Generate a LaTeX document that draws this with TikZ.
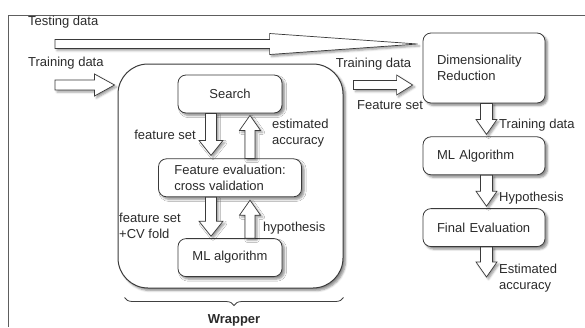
\documentclass[tikz,border=0pt]{standalone}
\usepackage{fontspec}
\setmainfont{Liberation Sans}
\usepackage{xcolor}
\definecolor{boxLine}{HTML}{3A3A3A}
\definecolor{inkText}{HTML}{2B2B2B}
\definecolor{frameGray}{HTML}{5E5E5E}
\usepackage{tikz}
\usetikzlibrary{
    positioning,
    calc,
    shadows.blur,
    decorations.pathreplacing
}
\tikzset{
    % Plain text labels
    label text/.style={
        font=\fontsize{13}{16}\selectfont,
        text=inkText,
        inner sep=0pt,
        align=left,
    },
    % Rounded stage boxes with a soft shadow
    stage/.style={
        font=\fontsize{13}{16}\selectfont,
        text=inkText,
        draw=boxLine,
        line width=0.8pt,
        rounded corners=8pt,
        fill=white,
        minimum width=104pt,
        minimum height=38pt,
        blur shadow={
            shadow xshift=2.5pt,
            shadow yshift=-2.5pt,
            shadow blur steps=5,
            shadow opacity=45
        },
    },
    % Boxes of the right column - text pushed to the left
    stage right/.style={
        stage,
        minimum width=122pt,
        text width=94pt,
        inner xsep=14pt,
        align=left,
    },
    % Big rounded frame around the wrapper loop
    wrapper box/.style={
        draw=boxLine,
        line width=1pt,
        rounded corners=30pt,
        fill=white,
        minimum width=225pt,
        minimum height=224pt,
        blur shadow={
            shadow xshift=2.5pt,
            shadow yshift=-2.5pt,
            shadow blur steps=5,
            shadow opacity=45
        },
    },
    % Hollow block arrow: shaft half width / head half width / head length
    fat arrow/.style args={#1/#2/#3}{
        draw=boxLine,
        line width=0.7pt,
        fill=white,
        blur shadow={
            shadow xshift=2pt,
            shadow yshift=-2pt,
            shadow blur steps=4,
            shadow opacity=40
        },
        to path={
            let \p1=(\tikztostart), \p2=(\tikztotarget),
                \n1={veclen(\x2-\x1,\y2-\y1)},
                \n2={(\x2-\x1)/\n1}, \n3={(\y2-\y1)/\n1} in
            ($(\p1)+({-(\n3)*#1},{(\n2)*#1})$)
            -- ($(\p2)+({-(\n2)*#3-(\n3)*#1},{-(\n3)*#3+(\n2)*#1})$)
            -- ($(\p2)+({-(\n2)*#3-(\n3)*#2},{-(\n3)*#3+(\n2)*#2})$)
            -- (\p2)
            -- ($(\p2)+({-(\n2)*#3+(\n3)*#2},{-(\n3)*#3-(\n2)*#2})$)
            -- ($(\p2)+({-(\n2)*#3+(\n3)*#1},{-(\n3)*#3-(\n2)*#1})$)
            -- ($(\p1)+({(\n3)*#1},{-(\n2)*#1})$) -- cycle
        },
    },
    % Outer frame lines
    frame/.style={draw=frameGray, line width=1pt},
    % Brace under the wrapper
    wrap brace/.style={
        draw=black!75,
        line width=0.8pt,
        decorate,
        decoration={brace, amplitude=8pt},
    },
}

\begin{document}
\begin{tikzpicture}[x=1pt, y=-1pt, node distance=30pt]
    \useasboundingbox (0,0) rectangle (585,327);
    % outer frame, only top and left edges show
    \draw [frame] (8,327) -- (8,15) -- (585,15);

    \node (testlbl) [label text, anchor=west] at (28,22) {Testing data};
    \node (trainlbl) [label text, anchor=west] at (28,63) {Training data};

    % wrapper loop
    \node (wrapper) [wrapper box] at (230.5,176) {};
    \node (search) [stage] at (230,94) {Search};
    \node (feval) [stage, below=45pt of search, minimum width=143pt, align=left] {Feature evaluation:\\cross validation};
    \node (mlalg) [stage, below=41pt of feval] {ML algorithm};

    % right column
    \node (dimred) [stage right, minimum height=70pt] at (484,68) {Dimensionality\\Reduction};
    \node (mlright) [stage right, below=33pt of dimred] {ML Algorithm};
    \node (finaleval) [stage right, below=33pt of mlright] {Final Evaluation};

    \coordinate (teststart) at (55,44);
    \coordinate (trainstart) at (55,85);
    \coordinate (accend) at ([xshift=2.5pt,yshift=-30pt]finaleval.south);

    \draw [fat arrow=4.5pt/10.5pt/148pt] (teststart) to ([xshift=-5pt]dimred.west |- teststart);
    \draw [fat arrow=5pt/11pt/20pt] (trainstart) to ([xshift=-3pt]wrapper.west |- trainstart);
    \draw [fat arrow=4.5pt/10pt/16pt] ([xshift=10pt]wrapper.east |- trainstart) to ([xshift=-10pt]dimred.west |- trainstart);

    \draw [fat arrow=5.5pt/12pt/15pt] ([xshift=-19pt]search.south) to ([xshift=-19pt,yshift=3pt]feval.north);
    \draw [fat arrow=5pt/10.5pt/15pt] ([xshift=20pt]feval.north) to ([xshift=20pt,yshift=-2pt]search.south);
    \draw [fat arrow=5.5pt/12pt/15pt] ([xshift=-19pt]feval.south) to ([xshift=-19pt,yshift=2pt]mlalg.north);
    \draw [fat arrow=5pt/10.5pt/15pt] ([xshift=20pt]mlalg.north) to ([xshift=20pt,yshift=-3pt]feval.south);

    \draw [fat arrow=6pt/10.5pt/15pt] ([xshift=2.5pt]dimred.south) to ([xshift=2.5pt,yshift=2pt]mlright.north);
    \draw [fat arrow=6pt/10.5pt/15pt] ([xshift=2.5pt]mlright.south) to ([xshift=2.5pt,yshift=2pt]finaleval.north);
    \draw [fat arrow=6pt/10.5pt/15pt] ([xshift=2.5pt]finaleval.south) to (accend);

    % arrow labels
    \node (fslbl) [label text, anchor=east] at (196,135) {feature set};
    \node (acclbl) [label text, anchor=west] at (272,133) {estimated\\accuracy};
    \node (cvlbl) [label text, anchor=west] at (119,226) {feature set\\+CV fold};
    \node (hyplbl) [label text, anchor=west] at (263,228) {hypothesis};
    \node (midtop) [label text] at (373.5,64) {Training data};
    \node (midbot) [label text] at (390,105) {Feature set};
    \node (rtrain) [label text, anchor=west] at (499,125) {Training data};
    \node (rhyp) [label text, anchor=west] at (499,198) {Hypothesis};
    \node (racc) [label text, anchor=west] at (499,278) {Estimated\\accuracy};

    \draw [wrap brace] ([yshift=-9pt]wrapper.south east) -- ([xshift=7pt,yshift=-9pt]wrapper.south west)
        node (wraplbl) [label text, midway, below=17pt, font=\fontsize{13}{16}\selectfont\bfseries] {Wrapper};
\end{tikzpicture}
\end{document}
